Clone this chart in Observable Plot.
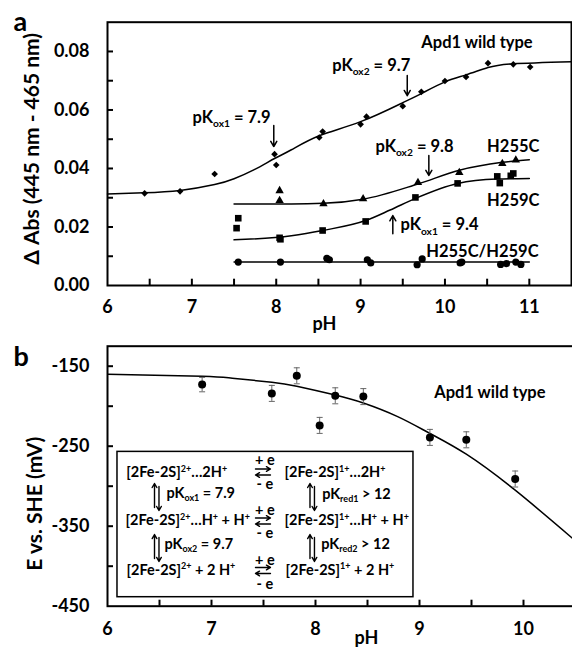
<!DOCTYPE html>
<html><head><meta charset="utf-8">
<script src="https://cdn.jsdelivr.net/npm/d3@7"></script>
<script src="https://cdn.jsdelivr.net/npm/@observablehq/plot@0.6"></script>
<style>
body{margin:0;background:#fff;}
#wrap{position:relative;width:572px;height:647px;overflow:hidden;background:#fff;font-family:Lato,sans-serif;}
#wrap svg{position:absolute;left:0;}
</style></head><body><div id="wrap"></div>
<script>
// ---------- Panel a data ----------
const wtPH  = [6.44, 6.86, 7.27, 7.98, 8.00, 8.51, 8.55, 9.00, 9.07, 9.50, 9.72, 10.00, 10.25, 10.51, 10.81, 11.01];
const wtAbs = [0.0315, 0.0322, 0.0381, 0.0449, 0.0412, 0.0506, 0.0526, 0.0551, 0.0577, 0.0613, 0.0662, 0.0699, 0.0713, 0.0760, 0.0756, 0.0747];
const wtFitPH  = [6.0, 6.43, 6.86, 7.27, 7.50, 7.74, 7.98, 8.18, 8.51, 9.0, 9.5, 9.72, 10.0, 10.25, 10.51, 10.81, 11.5];
const wtFitAbs = [0.0313, 0.0317, 0.0325, 0.0345, 0.0365, 0.0396, 0.0434, 0.0464, 0.0512, 0.0560, 0.0625, 0.0656, 0.0696, 0.0720, 0.0745, 0.0758, 0.0765];

const h255PH  = [8.04, 8.04, 8.56, 9.03, 9.68, 10.17, 10.68, 10.84];
const h255Abs = [0.0324, 0.0290, 0.0279, 0.0296, 0.0352, 0.0386, 0.0417, 0.0429];
const h255FitPH  = [7.5, 8.18, 8.56, 9.03, 9.68, 10.17, 10.68, 11.0];
const h255FitAbs = [0.0279, 0.0279, 0.0281, 0.0295, 0.0347, 0.0394, 0.0421, 0.0430];

const h259PH  = [7.55, 7.53, 8.04, 8.05, 8.55, 9.06, 9.65, 10.15, 10.62, 10.65, 10.78, 10.81];
const h259Abs = [0.0230, 0.0196, 0.0163, 0.0158, 0.0188, 0.0219, 0.0301, 0.0349, 0.0373, 0.0350, 0.0375, 0.0383];
const h259FitPH  = [7.5, 8.18, 8.55, 9.06, 9.35, 9.65, 10.15, 10.62, 11.0];
const h259FitAbs = [0.0156, 0.0170, 0.0188, 0.0222, 0.0258, 0.0298, 0.0349, 0.0364, 0.0366];

const dmPH  = [7.55, 8.05, 8.60, 8.63, 9.08, 9.12, 9.67, 9.73, 10.18, 10.20, 10.66, 10.73, 10.84, 10.90];
const dmAbs = [0.0080, 0.0080, 0.0093, 0.0088, 0.0088, 0.0077, 0.0071, 0.0091, 0.0077, 0.0080, 0.0072, 0.0075, 0.0080, 0.0072];
const dmFitPH  = [7.5, 11.0];
const dmFitAbs = [0.0080, 0.0080];

const xTicksA = [6, 7, 8, 9, 10, 11];
const xMinorA = [6.5, 7, 7.5, 8, 8.5, 9, 9.5, 10, 10.5, 11];
const yTicksA = [0, 0.02, 0.04, 0.06, 0.08];
const yMinorA = [0.01, 0.02, 0.03, 0.04, 0.05, 0.06, 0.07, 0.08];

const annLeftA = [
  {x: 7.008, y: 0.0557, label: "pK_{ox1} = 7.9"},
  {x: 8.664, y: 0.0732, label: "pK_{ox2} = 9.7"},
  {x: 9.177, y: 0.0456, label: "pK_{ox2} = 9.8"},
  {x: 9.473, y: 0.0188, label: "pK_{ox1} = 9.4"}
];
const annRightA = [
  {x: 11.04, y: 0.0812, label: "Apd1 wild type"},
  {x: 11.12, y: 0.0456, label: "H255C"},
  {x: 11.12, y: 0.0273, label: "H259C"},
  {x: 11.11, y: 0.0099, label: "H255C/H259C"}
];
const arrowsA = [
  {x1: 7.971, y1: 0.0547, x2: 7.971, y2: 0.0475},
  {x1: 9.553, y1: 0.0718, x2: 9.553, y2: 0.0649},
  {x1: 9.809, y1: 0.0444, x2: 9.809, y2: 0.0376},
  {x1: 9.382, y1: 0.0177, x2: 9.382, y2: 0.0239}
];

// ---------- Panel b data ----------
const bPH  = [6.91, 7.58, 7.82, 8.04, 8.19, 8.46, 9.10, 9.45, 9.92];
const bE   = [-173, -184, -162, -224, -187, -188, -239, -242, -291];
const bErr = [9, 10, 10, 10, 10, 10, 10, 10, 10];
const bFitPH = [6.0, 6.91, 7.2, 7.58, 7.82, 8.19, 8.46, 8.79, 9.10, 9.45, 9.92, 10.47];
const bFitE  = [-160, -162.5, -165, -170, -175, -186, -196, -213, -234, -260, -305, -365];

const xTicksB = [6, 7, 8, 9, 10];
const xMinorB = [6.5, 7, 7.5, 8, 8.5, 9, 9.5, 10];
const yTicksB = [-150, -250, -350, -450];
const yMinorB = [-150, -200, -250, -300, -350, -400];

const insetBox = [{x1: 6.096, x2: 8.942, y1: -257.1, y2: -438.75}];
const insetTexts = [
  {x: 6.180, y: -288.75, label: "[2Fe-2S]^{2+}…2H^{+}"},
  {x: 7.702, y: -288.75, label: "[2Fe-2S]^{1+}…2H^{+}"},
  {x: 6.567, y: -314.5,  label: "pK_{ox1} = 7.9"},
  {x: 8.064, y: -315.5,  label: "pK_{red1} > 12"},
  {x: 6.173, y: -348.5,  label: "[2Fe-2S]^{2+}…H^{+} + H^{+}"},
  {x: 7.702, y: -348.5,  label: "[2Fe-2S]^{1+}…H^{+} + H^{+}"},
  {x: 6.548, y: -378.25, label: "pK_{ox2} = 9.7"},
  {x: 8.055, y: -378.25, label: "pK_{red2} > 12"},
  {x: 6.183, y: -410.5,  label: "[2Fe-2S]^{2+} + 2 H^{+}"},
  {x: 7.712, y: -410.5,  label: "[2Fe-2S]^{1+} + 2 H^{+}"}
];
const insetE = [
  {x: 7.514, y: -274.1, label: "+ e"}, {x: 7.514, y: -304.1, label: "- e"},
  {x: 7.514, y: -335.4, label: "+ e"}, {x: 7.514, y: -364.5, label: "- e"},
  {x: 7.514, y: -397.9, label: "+ e"}, {x: 7.514, y: -428.25, label: "- e"}
];
const insetArrows = [
  {x1: 7.423, y1: -278.5, x2: 7.567, y2: -278.5}, {x1: 7.567, y1: -286.0, x2: 7.423, y2: -286.0},
  {x1: 7.423, y1: -339.75, x2: 7.567, y2: -339.75}, {x1: 7.567, y1: -347.25, x2: 7.423, y2: -347.25},
  {x1: 7.423, y1: -401.6, x2: 7.567, y2: -401.6}, {x1: 7.567, y1: -409.1, x2: 7.423, y2: -409.1},
  {x1: 6.452, y1: -326.6, x2: 6.452, y2: -296.6}, {x1: 6.495, y1: -300.4, x2: 6.495, y2: -330.4},
  {x1: 6.452, y1: -390.4, x2: 6.452, y2: -360.4}, {x1: 6.495, y1: -364.1, x2: 6.495, y2: -394.1},
  {x1: 7.947, y1: -326.6, x2: 7.947, y2: -296.6}, {x1: 7.990, y1: -300.4, x2: 7.990, y2: -330.4},
  {x1: 7.947, y1: -390.4, x2: 7.947, y2: -360.4}, {x1: 7.990, y1: -364.1, x2: 7.990, y2: -394.1}
];
const annRightB = [{x: 10.212, y: -189.5, label: "Apd1 wild type"}];

// ---------- build tables ----------
const tbl = (xs, ys) => xs.map((x, i) => ({x, y: ys[i]}));
const wt = tbl(wtPH, wtAbs), wtFit = tbl(wtFitPH, wtFitAbs);
const h255 = tbl(h255PH, h255Abs), h255Fit = tbl(h255FitPH, h255FitAbs);
const h259 = tbl(h259PH, h259Abs), h259Fit = tbl(h259FitPH, h259FitAbs);
const dm = tbl(dmPH, dmAbs), dmFit = tbl(dmFitPH, dmFitAbs);
const bData = bPH.map((x, i) => ({x, y: bE[i], e: bErr[i]}));
const bFit = tbl(bFitPH, bFitE);

const FONT = "Lato, 'Open Sans', sans-serif";
const cap = {draw(ctx, size) { const w = Math.sqrt(size / Math.PI); ctx.moveTo(-w, 0); ctx.lineTo(w, 0); }};

const plotA = Plot.plot({
  width: 572, height: 340,
  marginLeft: 107, marginRight: 1, marginTop: 21.7, marginBottom: 55,
  style: {fontFamily: FONT, fontWeight: "bold", fontSize: "18px", color: "black", background: "transparent", overflow: "visible"},
  x: {domain: [6, 11.5]},
  y: {domain: [0, 0.09]},
  marks: [
    Plot.ruleX(xMinorA, {insetTop: 257, strokeWidth: 2}),
    Plot.ruleY(yMinorA, {insetRight: 458, strokeWidth: 2}),
    Plot.axisX({ticks: xTicksA, tickSize: 0, tickPadding: 15, tickFormat: d => String(d), label: null, fontSize: 18}),
    Plot.axisY({ticks: yTicksA, tickSize: 0, tickPadding: 18, tickFormat: d => d.toFixed(2), label: null, fontSize: 18}),
    Plot.frame({strokeWidth: 2}),
    Plot.line(wtFit, {x: "x", y: "y", curve: "natural", strokeWidth: 1.5}),
    Plot.line(h255Fit, {x: "x", y: "y", curve: "monotone-x", strokeWidth: 1.5}),
    Plot.line(h259Fit, {x: "x", y: "y", curve: "monotone-x", strokeWidth: 1.5}),
    Plot.line(dmFit, {x: "x", y: "y", strokeWidth: 1.5}),
    Plot.dot(wt, {x: "x", y: "y", symbol: "diamond2", r: 3, fill: "black"}),
    Plot.dot(h255, {x: "x", y: "y", symbol: "triangle2", r: 4, fill: "black"}),
    Plot.dot(h259, {x: "x", y: "y", symbol: "square2", r: 4.2, fill: "black"}),
    Plot.dot(dm, {x: "x", y: "y", r: 3.6, fill: "black"}),
    Plot.arrow(arrowsA, {x1: "x1", y1: "y1", x2: "x2", y2: "y2", headLength: 6, strokeWidth: 1.5}),
    Plot.text(annLeftA, {x: "x", y: "y", text: "label", textAnchor: "start", lineAnchor: "bottom", fontSize: 16.5}),
    Plot.text(annRightA, {x: "x", y: "y", text: "label", textAnchor: "end", lineAnchor: "bottom", fontSize: 16.5}),
    Plot.text(["pH"], {frameAnchor: "bottom", textAnchor: "middle", dx: -15, dy: 44, lineAnchor: "bottom", fontSize: 18}),
    Plot.text(["Δ Abs (445 nm - 465 nm)"], {frameAnchor: "left", textAnchor: "middle", lineAnchor: "middle", dx: -75, dy: -5, rotate: -90, fontSize: 21}),
    Plot.text(["a"], {frameAnchor: "top-left", dx: -94, dy: 8.3, lineAnchor: "bottom", textAnchor: "start", fontSize: 27})
  ]
});

const plotB = Plot.plot({
  width: 572, height: 327,
  marginLeft: 107, marginRight: -3, marginTop: 25.7, marginBottom: 41.3,
  style: {fontFamily: FONT, fontWeight: "bold", fontSize: "18px", color: "black", background: "transparent", overflow: "visible"},
  x: {domain: [6, 10.5]},
  y: {domain: [-450, -125]},
  marks: [
    Plot.ruleX(xMinorB, {insetTop: 254, strokeWidth: 2}),
    Plot.ruleY(yMinorB, {insetRight: 462, strokeWidth: 2}),
    Plot.axisX({ticks: xTicksB, tickSize: 0, tickPadding: 16, tickFormat: d => String(d), label: null, fontSize: 18}),
    Plot.axisY({ticks: yTicksB, tickSize: 0, tickPadding: 18, tickFormat: d => String(d), label: null, fontSize: 18}),
    Plot.frame({strokeWidth: 2}),
    Plot.line(bFit, {x: "x", y: "y", curve: "natural", strokeWidth: 1.5, clip: true}),
    Plot.ruleX(bData, {x: "x", y1: d => d.y - d.e, y2: d => d.y + d.e, stroke: "#666", strokeWidth: 1}),
    Plot.dot(bData, {x: "x", y: d => d.y - d.e, symbol: cap, r: 3, fill: "none", stroke: "#666", strokeWidth: 1}),
    Plot.dot(bData, {x: "x", y: d => d.y + d.e, symbol: cap, r: 3, fill: "none", stroke: "#666", strokeWidth: 1}),
    Plot.dot(bData, {x: "x", y: "y", r: 4, fill: "black"}),
    Plot.rect(insetBox, {x1: "x1", x2: "x2", y1: "y1", y2: "y2", fill: "white", stroke: "black", strokeWidth: 1.5}),
    Plot.text(insetTexts, {x: "x", y: "y", text: "label", textAnchor: "start", lineAnchor: "bottom", fontSize: 14.5}),
    Plot.text(insetE, {x: "x", y: "y", text: "label", textAnchor: "middle", lineAnchor: "bottom", fontSize: 14.5}),
    Plot.arrow(insetArrows, {x1: "x1", y1: "y1", x2: "x2", y2: "y2", headLength: 5, strokeWidth: 1.4}),
    Plot.text(annRightB, {x: "x", y: "y", text: "label", textAnchor: "end", lineAnchor: "bottom", fontSize: 16.5}),
    Plot.text(["pH"], {frameAnchor: "bottom", textAnchor: "middle", dx: 25, dy: 38, lineAnchor: "bottom", fontSize: 18}),
    Plot.text(["E vs. SHE (mV)"], {frameAnchor: "left", textAnchor: "middle", lineAnchor: "middle", dx: -72, dy: 27.5, rotate: -90, fontSize: 21}),
    Plot.text(["b"], {frameAnchor: "top-left", dx: -94, dy: 19.3, lineAnchor: "bottom", textAnchor: "start", fontSize: 27})
  ]
});

const wrap = document.getElementById("wrap");
plotB.style.top = "320px";
plotA.style.top = "0px";
wrap.appendChild(plotB);
wrap.appendChild(plotA);

// rich text: _{sub} and ^{sup}
function rich(svg) {
  d3.select(svg).selectAll("text").each(function () {
    const t = this.textContent;
    if (!/[_^]\{/.test(t)) return;
    const fs = parseFloat(getComputedStyle(this).fontSize) || 16;
    const parts = []; const re = /([_^])\{([^}]*)\}/g; let last = 0, m;
    while ((m = re.exec(t))) {
      if (m.index > last) parts.push(["n", t.slice(last, m.index)]);
      parts.push([m[1], m[2]]); last = re.lastIndex;
    }
    if (last < t.length) parts.push(["n", t.slice(last)]);
    this.textContent = "";
    let shift = 0;
    for (const [k, s] of parts) {
      const ts = d3.select(this).append("tspan").text(s);
      const target = k === "_" ? 0.25 * fs : k === "^" ? -0.38 * fs : 0;
      if (target !== shift) ts.attr("dy", target - shift);
      shift = target;
      if (k !== "n") ts.attr("font-size", (0.62 * fs).toFixed(2));
    }
  });
}
rich(plotA); rich(plotB);
</script></body></html>
